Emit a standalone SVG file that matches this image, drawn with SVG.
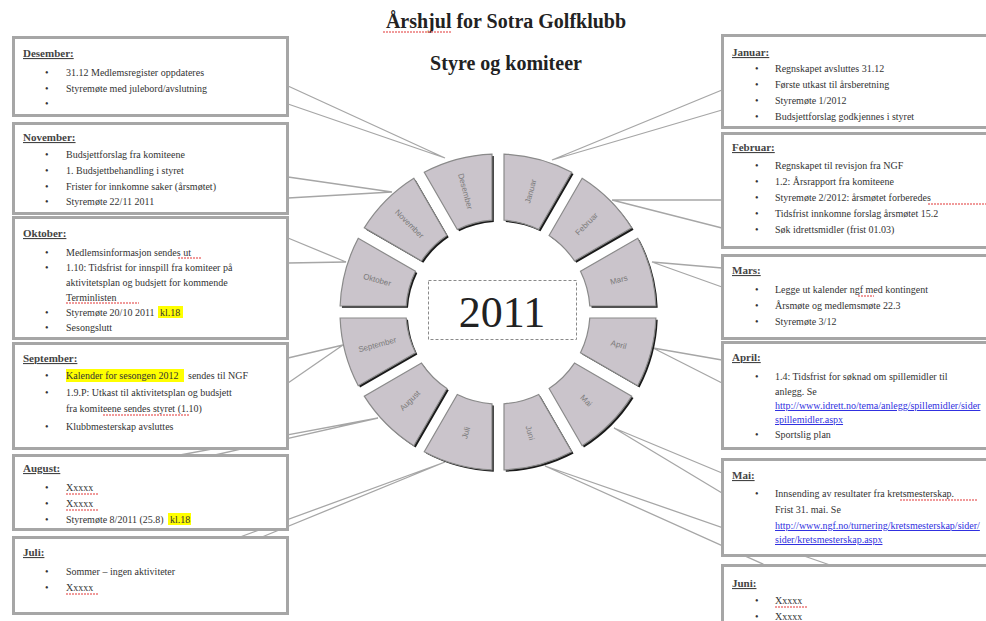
<svg xmlns="http://www.w3.org/2000/svg" width="986" height="621" viewBox="0 0 986 621">
<defs>
<style>
text{font-family:"Liberation Serif","Times New Roman",serif;fill:#333}
.ttl{font-size:20px;font-weight:bold;fill:#222}
.hd{font-size:11px;font-weight:bold;text-decoration:underline;fill:#444}
.it{font-size:10px}
.lk{font-size:10px;fill:#3030e0;text-decoration:underline}
.box{fill:#fff;stroke:#a6a6a6;stroke-width:3}
.con{fill:none;stroke:#a6a6a6;stroke-width:1.3}
.seg{fill:#cac4cb;stroke:#8a8a8a;stroke-width:1.2}
.sh{fill:#1a1a1a}
.lbl{font-family:"Liberation Sans",Arial,sans-serif;font-size:8px;fill:#7a7a7a;text-anchor:middle}
.hl{fill:#ffff00}
.sp{stroke:#ec7a7a;stroke-width:1.3;stroke-dasharray:2 1;fill:none}
</style>
</defs>
<rect width="986" height="621" fill="#fff"/>

<g id="title">
<text class="ttl" x="506" y="28" text-anchor="middle">Årshjul for Sotra Golfklubb</text>
<line class="sp" x1="383" y1="32" x2="452" y2="32"/>
<text class="ttl" x="506" y="70" text-anchor="middle">Styre og komiteer</text>
</g>

<g id="connectors">
<polyline class="con" points="288,86 445,158 288,104"/>
<polyline class="con" points="288,177 392,192 288,198"/>
<polyline class="con" points="288,238 346,262 288,263"/>
<polyline class="con" points="288,358 343,345 288,383"/>
<polyline class="con" points="180,455 378,418 215,455"/>
<polyline class="con" points="240,537 445,462 262,537"/>
<polyline class="con" points="722,90 552,160 722,110"/>
<polyline class="con" points="722,200 612,200 722,228"/>
<polyline class="con" points="722,268 652,262 722,287"/>
<polyline class="con" points="722,360 653,348 722,383"/>
<polyline class="con" points="722,473 614,428 722,493"/>
<polyline class="con" points="765,565 545,466 830,565"/>
</g>

<g id="box-desember">
<rect class="box" x="13.5" y="37.5" width="274" height="78"/>
<text class="hd" x="23" y="57">Desember:</text>
<text class="it" x="45" y="75.5">•</text><text class="it" x="66" y="75.5">31.12 Medlemsregister oppdateres</text>
<text class="it" x="45" y="91.5">•</text><text class="it" x="66" y="91.5">Styremøte med julebord/avslutning</text>
<text class="it" x="45" y="106.5">•</text>
</g>

<g id="box-november">
<rect class="box" x="13.5" y="123.5" width="274" height="90"/>
<text class="hd" x="23" y="141">November:</text>
<text class="it" x="45" y="158">•</text><text class="it" x="66" y="158">Budsjettforslag fra komiteene</text>
<text class="it" x="45" y="174">•</text><text class="it" x="66" y="174">1. Budsjettbehandling i styret</text>
<text class="it" x="45" y="190">•</text><text class="it" x="66" y="190">Frister for innkomne saker (årsmøtet)</text>
<text class="it" x="45" y="205">•</text><text class="it" x="66" y="205">Styremøte 22/11 2011</text>
</g>

<g id="box-oktober">
<rect class="box" x="13.5" y="217.5" width="274" height="121"/>
<text class="hd" x="23" y="237">Oktober:</text>
<text class="it" x="45" y="255.5">•</text><text class="it" x="66" y="255.5">Medlemsinformasjon sendes ut</text>
<line class="sp" x1="178" y1="258" x2="202" y2="258"/>
<text class="it" x="45" y="270.5">•</text><text class="it" x="66" y="270.5">1.10: Tidsfrist for innspill fra komiteer på</text>
<text class="it" x="66" y="285.5">aktivitetsplan og budsjett for kommende</text>
<text class="it" x="66" y="300.5">Terminlisten</text>
<line class="sp" x1="66" y1="303" x2="139" y2="303"/>
<text class="it" x="45" y="315.5">•</text><text class="it" x="66" y="315.5">Styremøte 20/10 2011</text>
<rect class="hl" x="158" y="306" width="25" height="12"/>
<text class="it" x="160" y="315.5">kl.18</text>
<text class="it" x="45" y="331">•</text><text class="it" x="66" y="331">Sesongslutt</text>
</g>

<g id="box-september">
<rect class="box" x="13.5" y="343.5" width="274" height="105"/>
<text class="hd" x="23" y="362">September:</text>
<text class="it" x="45" y="379">•</text>
<rect class="hl" x="66" y="369" width="118" height="13"/>
<text class="it" x="66" y="379">Kalender for sesongen 2012</text>
<text class="it" x="188" y="379">sendes til NGF</text>
<text class="it" x="45" y="396">•</text><text class="it" x="66" y="396">1.9.P: Utkast til aktivitetsplan og budsjett</text>
<text class="it" x="66" y="412">fra komiteene sendes styret (1.10)</text>
<line class="sp" x1="103" y1="415" x2="190" y2="415"/>
<text class="it" x="45" y="430">•</text><text class="it" x="66" y="430">Klubbmesterskap avsluttes</text>
</g>

<g id="box-august">
<rect class="box" x="13.5" y="455.5" width="274" height="74"/>
<text class="hd" x="23" y="472">August:</text>
<text class="it" x="45" y="491">•</text><text class="it" x="66" y="491">Xxxxx</text>
<line class="sp" x1="66" y1="494" x2="98" y2="494"/>
<text class="it" x="45" y="507">•</text><text class="it" x="66" y="507">Xxxxx</text>
<line class="sp" x1="66" y1="510" x2="98" y2="510"/>
<text class="it" x="45" y="523">•</text><text class="it" x="66" y="523">Styremøte 8/2011 (25.8)</text>
<rect class="hl" x="168" y="513" width="23" height="12"/>
<text class="it" x="170" y="523">kl.18</text>
</g>

<g id="box-juli">
<rect class="box" x="13.5" y="537.5" width="274" height="76"/>
<text class="hd" x="23" y="556">Juli:</text>
<text class="it" x="45" y="575">•</text><text class="it" x="66" y="575">Sommer – ingen aktiviteter</text>
<text class="it" x="45" y="591">•</text><text class="it" x="66" y="591">Xxxxx</text>
<line class="sp" x1="66" y1="594" x2="98" y2="594"/>
</g>

<g id="box-januar">
<rect class="box" x="722.5" y="35.5" width="270" height="92"/>
<text class="hd" x="732" y="56">Januar:</text>
<text class="it" x="755" y="72">•</text><text class="it" x="775" y="72">Regnskapet avsluttes 31.12</text>
<text class="it" x="755" y="88">•</text><text class="it" x="775" y="88">Første utkast til årsberetning</text>
<text class="it" x="755" y="104">•</text><text class="it" x="775" y="104">Styremøte 1/2012</text>
<text class="it" x="755" y="120">•</text><text class="it" x="775" y="120">Budsjettforslag godkjennes i styret</text>
</g>

<g id="box-februar">
<rect class="box" x="722.5" y="133.5" width="270" height="114"/>
<text class="hd" x="732" y="151">Februar:</text>
<text class="it" x="755" y="169">•</text><text class="it" x="775" y="169">Regnskapet til revisjon fra NGF</text>
<text class="it" x="755" y="185">•</text><text class="it" x="775" y="185">1.2: Årsrapport fra komiteene</text>
<text class="it" x="755" y="201">•</text><text class="it" x="775" y="201">Styremøte 2/2012: årsmøtet forberedes</text>
<line class="sp" x1="928" y1="204" x2="986" y2="204"/>
<text class="it" x="755" y="217">•</text><text class="it" x="775" y="217">Tidsfrist innkomne forslag årsmøtet 15.2</text>
<text class="it" x="755" y="233">•</text><text class="it" x="775" y="233">Søk idrettsmidler (frist 01.03)</text>
</g>

<g id="box-mars">
<rect class="box" x="722.5" y="255.5" width="270" height="83"/>
<text class="hd" x="732" y="274">Mars:</text>
<text class="it" x="755" y="293">•</text><text class="it" x="775" y="293">Legge ut kalender ngf med kontingent</text>
<line class="sp" x1="858" y1="296" x2="874" y2="296"/>
<text class="it" x="755" y="309">•</text><text class="it" x="775" y="309">Årsmøte og medlemsmøte 22.3</text>
<text class="it" x="755" y="325">•</text><text class="it" x="775" y="325">Styremøte 3/12</text>
</g>

<g id="box-april">
<rect class="box" x="722.5" y="342.5" width="270" height="106"/>
<text class="hd" x="732" y="361">April:</text>
<text class="it" x="755" y="380">•</text><text class="it" x="775" y="380">1.4: Tidsfrist for søknad om spillemidler til</text>
<text class="it" x="775" y="395">anlegg. Se</text>
<text class="lk" x="775" y="409">http://www.idrett.no/tema/anlegg/spillemidler/sider</text>
<text class="lk" x="775" y="423">spillemidler.aspx</text>
<text class="it" x="755" y="438">•</text><text class="it" x="775" y="438">Sportslig plan</text>
</g>

<g id="box-mai">
<rect class="box" x="722.5" y="459.5" width="270" height="96"/>
<text class="hd" x="732" y="479">Mai:</text>
<text class="it" x="755" y="497">•</text><text class="it" x="775" y="497">Innsending av resultater fra kretsmesterskap.</text>
<line class="sp" x1="900" y1="500" x2="978" y2="500"/>
<text class="it" x="775" y="513">Frist 31. mai. Se</text>
<text class="lk" x="775" y="529">http://www.ngf.no/turnering/kretsmesterskap/sider/</text>
<text class="lk" x="775" y="543">sider/kretsmesterskap.aspx</text>
</g>

<g id="box-juni">
<rect class="box" x="722.5" y="565.5" width="270" height="70"/>
<text class="hd" x="732" y="587">Juni:</text>
<text class="it" x="755" y="604">•</text><text class="it" x="775" y="604">Xxxxx</text>
<line class="sp" x1="775" y1="607" x2="807" y2="607"/>
<text class="it" x="755" y="620">•</text><text class="it" x="775" y="620">Xxxxx</text>
</g>

<g id="seg-januar">
<path class="sh" transform="translate(1.8,1.8)" d="M504.01 154.11A158 158 0 0 1 571.74 172.26L538.71 229.5A92 92 0 0 0 504 220.2Z"/>
<path class="seg" d="M504.01 154.11A158 158 0 0 1 571.74 172.26L538.71 229.5A92 92 0 0 0 504 220.2Z"/>
<text class="lbl" transform="translate(530.35,191.26) rotate(-75)" dy="3">Januar</text>
</g>
<g id="seg-februar">
<path class="sh" transform="translate(1.8,1.8)" d="M582.15 178.27A158 158 0 0 1 631.73 227.85L574.51 260.9A92 92 0 0 0 549.1 235.5Z"/>
<path class="seg" d="M582.15 178.27A158 158 0 0 1 631.73 227.85L574.51 260.9A92 92 0 0 0 549.1 235.5Z"/>
<text class="lbl" transform="translate(586.39,223.61) rotate(-45)" dy="3">Februar</text>
</g>
<g id="seg-mars">
<path class="sh" transform="translate(1.8,1.8)" d="M637.74 238.26A158 158 0 0 1 655.89 305.99L589.8 306A92 92 0 0 0 580.51 271.29Z"/>
<path class="seg" d="M637.74 238.26A158 158 0 0 1 655.89 305.99L589.8 306A92 92 0 0 0 580.51 271.29Z"/>
<text class="lbl" transform="translate(618.74,279.65) rotate(-15)" dy="3">Mars</text>
</g>
<g id="seg-april">
<path class="sh" transform="translate(1.8,1.8)" d="M655.89 318.01A158 158 0 0 1 637.74 385.74L580.51 352.71A92 92 0 0 0 589.8 318Z"/>
<path class="seg" d="M655.89 318.01A158 158 0 0 1 637.74 385.74L580.51 352.71A92 92 0 0 0 589.8 318Z"/>
<text class="lbl" transform="translate(618.74,344.35) rotate(15)" dy="3">April</text>
</g>
<g id="seg-mai">
<path class="sh" transform="translate(1.8,1.8)" d="M631.73 396.15A158 158 0 0 1 582.15 445.73L549.1 388.51A92 92 0 0 0 574.51 363.1Z"/>
<path class="seg" d="M631.73 396.15A158 158 0 0 1 582.15 445.73L549.1 388.51A92 92 0 0 0 574.51 363.1Z"/>
<text class="lbl" transform="translate(586.39,400.39) rotate(45)" dy="3">Mai</text>
</g>
<g id="seg-juni">
<path class="sh" transform="translate(1.8,1.8)" d="M571.74 451.74A158 158 0 0 1 504.01 469.89L504 403.8A92 92 0 0 0 538.71 394.51Z"/>
<path class="seg" d="M571.74 451.74A158 158 0 0 1 504.01 469.89L504 403.8A92 92 0 0 0 538.71 394.51Z"/>
<text class="lbl" transform="translate(530.35,432.74) rotate(75)" dy="3">Juni</text>
</g>
<g id="seg-juli">
<path class="sh" transform="translate(1.8,1.8)" d="M491.99 469.89A158 158 0 0 1 424.26 451.74L457.29 394.51A92 92 0 0 0 492 403.8Z"/>
<path class="seg" d="M491.99 469.89A158 158 0 0 1 424.26 451.74L457.29 394.51A92 92 0 0 0 492 403.8Z"/>
<text class="lbl" transform="translate(465.65,432.74) rotate(-75)" dy="3">Juli</text>
</g>
<g id="seg-august">
<path class="sh" transform="translate(1.8,1.8)" d="M413.85 445.73A158 158 0 0 1 364.27 396.15L421.5 363.1A92 92 0 0 0 446.9 388.51Z"/>
<path class="seg" d="M413.85 445.73A158 158 0 0 1 364.27 396.15L421.5 363.1A92 92 0 0 0 446.9 388.51Z"/>
<text class="lbl" transform="translate(409.61,400.39) rotate(-45)" dy="3">August</text>
</g>
<g id="seg-september">
<path class="sh" transform="translate(1.8,1.8)" d="M358.26 385.74A158 158 0 0 1 340.11 318.01L406.2 318A92 92 0 0 0 415.5 352.71Z"/>
<path class="seg" d="M358.26 385.74A158 158 0 0 1 340.11 318.01L406.2 318A92 92 0 0 0 415.5 352.71Z"/>
<text class="lbl" transform="translate(377.26,344.35) rotate(-15)" dy="3">September</text>
</g>
<g id="seg-oktober">
<path class="sh" transform="translate(1.8,1.8)" d="M340.11 305.99A158 158 0 0 1 358.26 238.26L415.5 271.29A92 92 0 0 0 406.2 306Z"/>
<path class="seg" d="M340.11 305.99A158 158 0 0 1 358.26 238.26L415.5 271.29A92 92 0 0 0 406.2 306Z"/>
<text class="lbl" transform="translate(377.26,279.65) rotate(15)" dy="3">Oktober</text>
</g>
<g id="seg-november">
<path class="sh" transform="translate(1.8,1.8)" d="M364.27 227.85A158 158 0 0 1 413.85 178.27L446.9 235.5A92 92 0 0 0 421.5 260.9Z"/>
<path class="seg" d="M364.27 227.85A158 158 0 0 1 413.85 178.27L446.9 235.5A92 92 0 0 0 421.5 260.9Z"/>
<text class="lbl" transform="translate(409.61,223.61) rotate(45)" dy="3">November</text>
</g>
<g id="seg-desember">
<path class="sh" transform="translate(1.8,1.8)" d="M424.26 172.26A158 158 0 0 1 491.99 154.11L492 220.2A92 92 0 0 0 457.29 229.5Z"/>
<path class="seg" d="M424.26 172.26A158 158 0 0 1 491.99 154.11L492 220.2A92 92 0 0 0 457.29 229.5Z"/>
<text class="lbl" transform="translate(465.65,191.26) rotate(75)" dy="3">Desember</text>
</g>

<g id="center">
<rect x="428.5" y="280.5" width="148" height="59" fill="none" stroke="#8a8a8a" stroke-width="1" stroke-dasharray="3 2"/>
<text x="502" y="327" text-anchor="middle" style="font-size:44px;fill:#222">2011</text>
</g>
</svg>
